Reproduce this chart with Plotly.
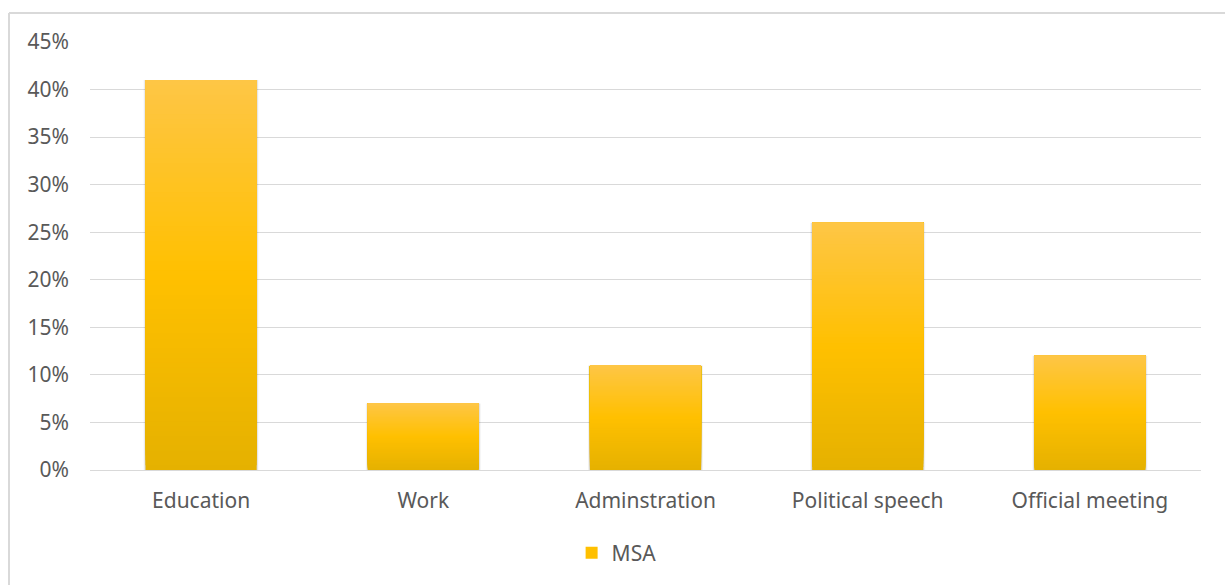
import numpy as np
import plotly.graph_objects as go

# Share of MSA usage by domain
categories = ["Education", "Work", "Adminstration", "Political speech", "Official meeting"]
msa_share = [41, 7, 11, 26, 12]
y_ticks = [0, 5, 10, 15, 20, 25, 30, 35, 40, 45]
y_tick_labels = [f"{t}%" for t in y_ticks]

W, H = 1225, 585
M_L, M_R, M_T, M_B = 90, 24, 42, 115
BAR_W = 0.5

# vertical gradient stops (position from bottom -> RGB)
grad_pos = [0.0, 0.5, 1.0]
grad_rgb = np.array([[229, 177, 0], [255, 192, 0], [254, 198, 70]], dtype=float)


def grad_color(t):
    r = np.interp(t, grad_pos, grad_rgb[:, 0])
    g = np.interp(t, grad_pos, grad_rgb[:, 1])
    b = np.interp(t, grad_pos, grad_rgb[:, 2])
    return f"rgb({r:.0f},{g:.0f},{b:.0f})"


vals = np.array(msa_share, dtype=float)
fig = go.Figure()

# soft drop shadow around each column
for extra, alpha in [(0.018, 0.035), (0.012, 0.05), (0.006, 0.07)]:
    fig.add_trace(go.Bar(
        x=categories, y=vals, width=BAR_W + extra,
        marker=dict(color=f"rgba(0,0,0,{alpha})", line=dict(width=0)),
        showlegend=False, hoverinfo="skip",
    ))

# each column filled with overlapping layers (each runs from its start to the
# top of the column) so the vertical gradient has no seams
N = 80
for k in range(N):
    t = (k + 0.5) / N
    base = vals * k / N
    fig.add_trace(go.Bar(
        x=categories, y=vals - base, base=base, width=BAR_W,
        marker=dict(color=grad_color(t), line=dict(width=0)),
        showlegend=False, hoverinfo="skip",
    ))

# hover carrier
fig.add_trace(go.Bar(
    x=categories, y=vals, width=BAR_W, name="MSA",
    marker=dict(color="rgba(255,192,0,0)", line=dict(width=0)),
    hovertemplate="%{x}: %{y}%<extra>MSA</extra>",
    showlegend=False,
))
# legend entry
fig.add_trace(go.Bar(
    x=[None], y=[None], name="MSA",
    marker=dict(color=grad_color(0.5), line=dict(width=0)),
    showlegend=True,
))

plot_w = W - M_L - M_R
plot_h = H - M_T - M_B
FONT_SIZE = 21
TEXT = "#595959"

fig.update_layout(
    width=W, height=H,
    margin=dict(l=M_L, r=M_R, t=M_T, b=M_B),
    barmode="overlay",
    paper_bgcolor="white", plot_bgcolor="white",
    font=dict(family="Noto Sans, DejaVu Sans, sans-serif", size=FONT_SIZE, color=TEXT),
    showlegend=True,
    legend=dict(orientation="h", x=0.474, xanchor="center", y=(470 - 553) / plot_h,
                yanchor="middle", font=dict(size=FONT_SIZE, color=TEXT), itemwidth=30),
    xaxis=dict(showgrid=False, showline=True, linecolor="#D9D9D9", linewidth=1,
               ticks="", ticklabelstandoff=12,
               tickfont=dict(size=FONT_SIZE, color=TEXT)),
    yaxis=dict(range=[0, 45], tickvals=y_ticks, ticktext=y_tick_labels,
               showgrid=True, gridcolor="#D9D9D9", gridwidth=1,
               zeroline=False, showline=False, ticks="",
               ticklabelstandoff=20, tickfont=dict(size=FONT_SIZE, color=TEXT)),
    shapes=[
        dict(type="line", xref="paper", yref="paper",
             x0=(9 - M_L) / plot_w, x1=(W + 5 - M_L) / plot_w,
             y0=(H - M_B - 13) / plot_h, y1=(H - M_B - 13) / plot_h,
             line=dict(color="#D9D9D9", width=2)),
        dict(type="line", xref="paper", yref="paper",
             x0=(9 - M_L) / plot_w, x1=(9 - M_L) / plot_w,
             y0=(H - M_B - 13) / plot_h, y1=-(M_B + 5) / plot_h,
             line=dict(color="#D9D9D9", width=2)),
    ],
)

fig.write_html("out.html")
